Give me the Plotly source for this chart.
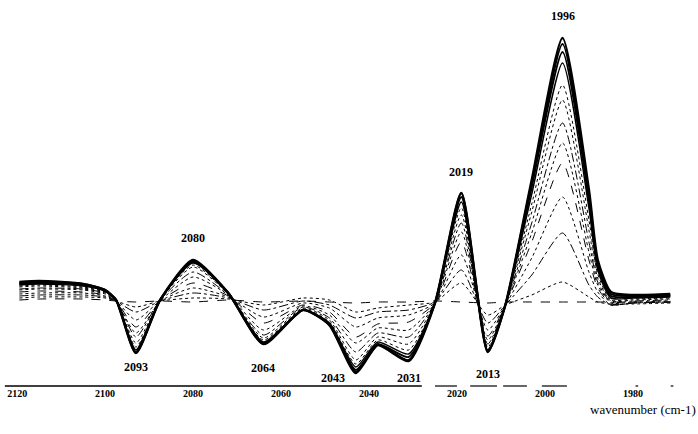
import plotly.graph_objects as go

# wavenumber grid (cm-1) at which the spectra were read
wavenumber = [2119.5, 2115, 2105, 2100, 2097.5, 2093, 2087.5, 2080, 2072, 2064, 2055, 2049,
              2043, 2038, 2031, 2025, 2019, 2013, 2009, 2003, 1996, 1990, 1988, 1985, 1980, 1971.5]

# difference spectra, earliest (flat) to latest (thick envelope), arbitrary absorbance units
scan_01 = [0, 1, 1, 0, -1, -2, -1, -2, 0, -2, -1, -2, -3, -2, -2, -1, -2, -3, -2, -2, -2, -2, -2, -2, -2, -2]
scan_02 = [2, 3, 3, 2, -1, -7, -1, 2, 1, -5, 2, 0, -12, -8, -5, -2, 17, -15, -5, 5, 18, 3, -2, -4, -4, -3]
scan_03 = [4, 5, 5, 3, -1, -12, -1, 7, 2, -10, -1, -5, -18, -12, -10, -2, 30, -23, -5, 25, 67, 15, 3, -5, -3, -2]
scan_04 = [6, 7, 7, 4, -1, -20, -1, 12, 3, -17, -3, -8, -27, -18, -15, -3, 45, -30, -5, 42, 103, 28, 8, -5, -3, -2]
scan_05 = [8, 9, 8, 5, -1, -27, -1, 17, 4, -23, -5, -12, -37, -24, -22, -3, 58, -36, -5, 58, 137, 40, 12, -4, -3, -2]
scan_06 = [10, 11, 10, 6, -1, -33, -1, 23, 5, -30, -6, -15, -43, -28, -30, -3, 68, -40, -5, 67, 157, 48, 15, -3, -2, -1]
scan_07 = [11, 12, 11, 7, 0, -37, 0, 28, 5, -35, -7, -18, -52, -33, -37, -3, 77, -44, -5, 77, 177, 58, 18, -2, -1, 0]
scan_08 = [13, 14, 12, 8, 0, -43, 0, 33, 6, -38, -8, -20, -60, -37, -44, -3, 85, -47, -5, 88, 200, 70, 22, -1, 0, 1]
scan_09 = [14, 15, 13, 8, 0, -47, 0, 35, 6, -40, -9, -22, -64, -40, -50, -3, 92, -49, -5, 96, 215, 80, 26, 0, 1, 2]
scan_10 = [15, 16, 14, 9, 0, -50, 0, 37, 7, -42, -10, -23, -67, -42, -54, -3, 98, -50, -5, 106, 237, 92, 30, 2, 2, 3]
scan_11 = [16, 17, 15, 9, 0, -52, 0, 38, 7, -43, -10, -24, -70, -44, -57, -3, 103, -51, -5, 113, 248, 100, 34, 4, 3, 4]
scan_12 = [17, 18, 16, 10, 0, -53, 0, 39, 7, -44, -10, -25, -72, -45, -60, -3, 107, -52, -5, 118, 256, 106, 37, 6, 4, 5]
scan_13 = [18, 19, 16, 10, 0, -53, 0, 40, 7, -44, -10, -25, -73, -45, -61, -3, 107, -52, -5, 120, 262, 110, 40, 8, 5, 6]

scans = [scan_01, scan_02, scan_03, scan_04, scan_05, scan_06, scan_07,
         scan_08, scan_09, scan_10, scan_11, scan_12, scan_13]

# peak labels (cm-1)
peak_labels = ["2093", "2080", "2064", "2043", "2031", "2019", "2013", "1996"]
peak_label_y = [-67, 62, -68, -78, -78, 128, -74, 284]

tick_values = [2120, 2100, 2080, 2060, 2040, 2020, 2000, 1980]

dashes = ["dash", "dot", "dashdot", "dot", "dash", "dot", "dashdot", "dot", "dot",
          "solid", "solid", "solid", "solid"]
widths = [1, 1, 1, 1, 1, 1, 1, 1, 1, 1.5, 2, 2, 2.5]

fig = go.Figure()
for i, s in enumerate(scans):
    fig.add_trace(go.Scatter(
        x=wavenumber, y=s, mode="lines",
        line=dict(color="black", width=widths[i], dash=dashes[i], shape="spline", smoothing=0.6),
        showlegend=False, hoverinfo="skip"))

label_font = dict(family="Liberation Serif", size=12, color="black")
for lab, ly in zip(peak_labels, peak_label_y):
    xs = -23 if lab == "2043" else 0
    fig.add_annotation(x=float(lab), y=ly, text="<b>%s</b>" % lab, showarrow=False,
                       font=label_font, xshift=xs)

# broken baseline axis as in the scanned figure
fig.add_shape(type="line", xref="x", yref="paper", x0=2122.8, x1=2028, y0=0, y1=0,
              line=dict(color="black", width=1.5))
for a, b in [(2025.0, 2020.0), (2017.0, 2010.9), (2009.5, 2004.1), (2000.7, 1995.0),
             (1979.4, 1978.8), (1971.4, 1970.8)]:
    fig.add_shape(type="line", xref="x", yref="paper", x0=a, x1=b, y0=0, y1=0,
                  line=dict(color="black", width=1.2))

fig.add_annotation(xref="paper", yref="paper", x=1.0, y=-0.062, xanchor="right",
                   yanchor="middle", text="wavenumber (cm-1)", showarrow=False,
                   font=dict(family="Liberation Serif", size=13, color="black"))

fig.update_layout(
    width=698, height=434,
    margin=dict(l=0, r=0, t=0, b=48),
    paper_bgcolor="white", plot_bgcolor="white",
    hovermode=False,
    xaxis=dict(range=[2123.9, 1965.2], tickvals=tick_values,
               ticktext=["<b>%d</b>" % v for v in tick_values],
               showgrid=False, zeroline=False, showline=False, ticks="",
               tickfont=dict(family="Liberation Serif", size=10, color="black")),
    yaxis=dict(range=[-86, 300], visible=False, showgrid=False, zeroline=False),
)

fig.write_html("out.html", config={"displayModeBar": False},
               post_script="document.body.style.margin='0px';")
